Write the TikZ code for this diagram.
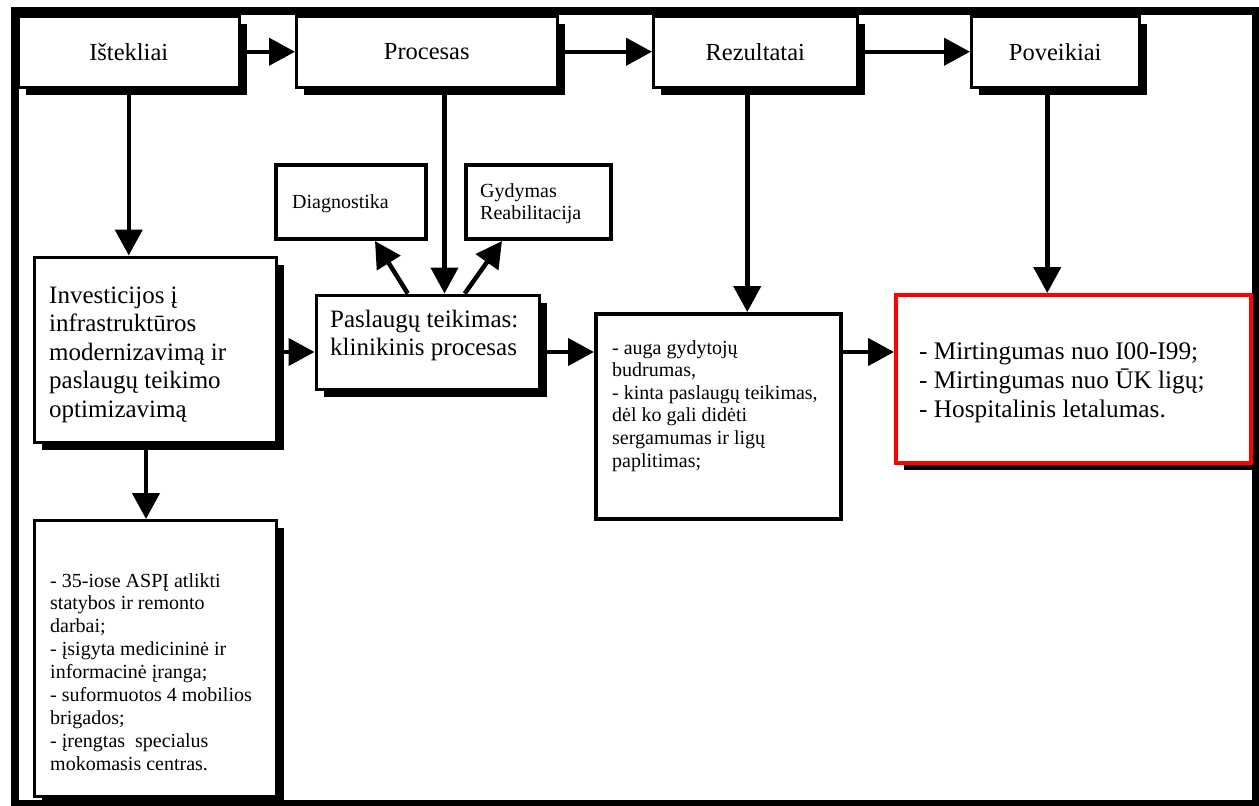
\documentclass[tikz,border=0pt]{standalone}
\usepackage{fontspec}
\setmainfont{Liberation Serif}
\usetikzlibrary{arrows.meta,shadows}

\tikzset{
  seseline/.style={draw, line width=3pt, fill=white, inner sep=0pt,
    drop shadow={shadow xshift=7.5pt, shadow yshift=-7.5pt, opacity=1, fill=black}},
  plonas/.style={draw, line width=4pt, fill=white, inner sep=0pt},
  raudonas/.style={draw=red, line width=4pt, fill=white, inner sep=0pt,
    drop shadow={shadow xshift=7.5pt, shadow yshift=-7.5pt, opacity=1, fill=black}},
  antraste/.style={seseline, font=\fontsize{24.5pt}{28pt}\selectfont},
  tekstas/.style={anchor=base west, inner sep=0pt, align=left, text width=340pt,
    execute at begin node={\spaceskip=0pt\xspaceskip=0pt\relax}},
  rodykle/.style={line width=4.5pt, -{Triangle[length=26pt,width=27pt]}},
}

\begin{document}
\begin{tikzpicture}[x=1pt, y=-1pt]

      \useasboundingbox (0,0) rectangle (1259,806);

      % Rėmas
      \draw[line width=8pt] (14.5,11) rectangle (1255.5,804);

      % Viršutiniai langeliai
      \node[antraste, minimum width=220.5pt, minimum height=70.5pt] (ist) at (128.75,51.75) {Ištekliai};
      \node[antraste, minimum width=260.5pt, minimum height=70.5pt] (proc) at (426.75,51.75) {Procesas};
      \node[antraste, minimum width=203.5pt, minimum height=70.5pt] (rez) at (755.25,51.75) {Rezultatai};
      \node[antraste, minimum width=167.5pt, minimum height=70.5pt] (pov) at (1055.25,51.75) {Poveikiai};

      % Langeliai
      \node[seseline, minimum width=242pt, minimum height=185pt] (inv) at (155.5,349.5) {};
      \node[seseline, minimum width=242pt, minimum height=275.5pt] (low) at (155.5,658.25) {};
      \node[seseline, minimum width=223.5pt, minimum height=94pt] (pasl) at (427.75,342) {};
      \node[plonas, minimum width=150pt, minimum height=74pt] (diag) at (351,202) {};
      \node[plonas, minimum width=145pt, minimum height=74pt] (gyd) at (538.5,202) {};
      \node[plonas, minimum width=244.5pt, minimum height=205pt] (mid) at (718.25,416.5) {};
      \node[raudonas, minimum width=355pt, minimum height=167.5pt] (red) at (1073.5,378.75) {};

      % Tekstai
      \node[tekstas, font=\fontsize{25pt}{28.5pt}\selectfont] (invtxt) at (49,303)
        {Investicijos į\\infrastruktūros\\modernizavimą ir\\paslaugų teikimo\\optimizavimą};
      \node[tekstas, font=\fontsize{25pt}{28pt}\selectfont] (psltxt) at (330,327)
        {Paslaugų teikimas:\\klinikinis procesas};
      \node[tekstas, font=\fontsize{20pt}{22pt}\selectfont] (diagtxt) at (292,208) {Diagnostika};
      \node[tekstas, font=\fontsize{20pt}{22pt}\selectfont] (gydtxt) at (480,197) {Gydymas\\Reabilitacija};
      \node[tekstas, font=\fontsize{20pt}{22.6pt}\selectfont] (midtxt) at (612,354)
        {- auga gydytojų\\budrumas,\\- kinta paslaugų teikimas,\\dėl ko gali didėti\\sergamumas ir ligų\\paplitimas;};
      \node[tekstas, font=\fontsize{25.3pt}{29pt}\selectfont] (redtxt) at (919,359)
        {- Mirtingumas nuo I00-I99;\\- Mirtingumas nuo ŪK ligų;\\- Hospitalinis letalumas.};
      \node[tekstas, font=\fontsize{20pt}{22.9pt}\selectfont] (lowtxt) at (50,587)
        {- 35-iose ASPĮ atlikti\\statybos ir remonto\\darbai;\\- įsigyta medicininė ir\\informacinė įranga;\\- suformuotos 4 mobilios\\brigados;\\- įrengtas\ \ specialus\\mokomasis centras.};

      % Rodyklės
      \coordinate (lane) at (0,352);
      \draw[rodykle] (ist.east) -- (proc.west);
      \draw[rodykle] (proc.east) -- (rez.west);
      \draw[rodykle] (rez.east) -- (pov.west);
      \draw[rodykle] (ist.south) -- (ist.south |- inv.north);
      \draw[rodykle] ([xshift=-9.5pt]inv.south) -- ([xshift=-9.5pt]inv.south |- low.north);
      \draw[rodykle] ([xshift=17.75pt]proc.south) -- ([xshift=17.75pt]proc.south |- pasl.north);
      \draw[rodykle] ([xshift=-8pt]rez.south) -- ([xshift=-8pt]rez.south |- mid.north);
      \draw[rodykle] ([xshift=-8pt]pov.south) -- ([xshift=-8pt]pov.south |- red.north);
      \draw[rodykle] (inv.east |- lane) -- (pasl.west |- lane);
      \draw[rodykle] (pasl.east |- lane) -- (mid.west |- lane);
      \draw[rodykle] (mid.east |- lane) -- (red.west |- lane);
      \draw[rodykle] ([xshift=-20pt]pasl.north) -- ([xshift=24pt]diag.south);
      \draw[rodykle] ([xshift=37pt]pasl.north) -- ([xshift=-36.5pt]gyd.south);

    \end{tikzpicture}
\end{document}
